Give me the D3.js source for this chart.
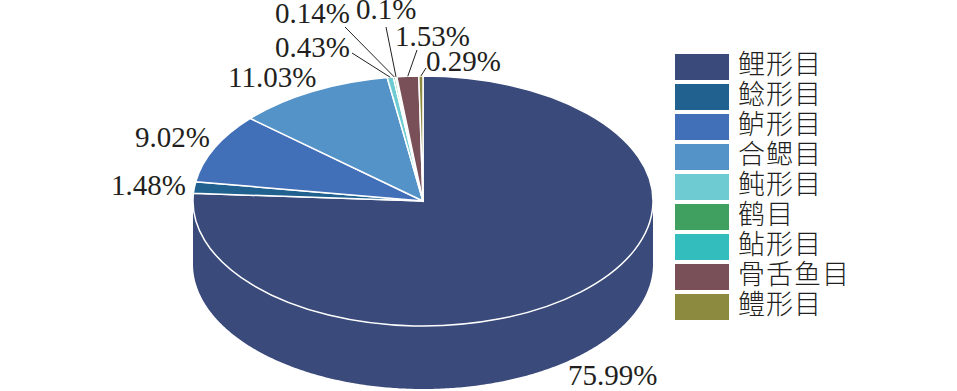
<!DOCTYPE html>
<html>
<head>
<meta charset="utf-8">
<script src="https://cdn.jsdelivr.net/npm/d3@7"></script>
<style>
  html, body { margin: 0; padding: 0; background: #fff; }
  svg { display: block; }
  .pct { font-family: "Liberation Serif", serif; font-size: 29px; fill: #231f20; }
  .leg { font-family: "Noto Sans CJK SC", sans-serif; font-size: 27px; font-weight: 300; letter-spacing: 1px; fill: #231f20; }
</style>
</head>
<body>
<svg id="chart" width="957" height="391"></svg>
<script>
const orders = ["鲤形目", "鲶形目", "鲈形目", "合鳃目", "鲀形目", "鹤目", "鲇形目", "骨舌鱼目", "鳢形目"]
const shares = [75.99, 1.48, 9.02, 11.03, 0.43, 0.14, 0.1, 1.53, 0.29]
const shareLabels = ["75.99%", "1.48%", "9.02%", "11.03%", "0.43%", "0.14%", "0.1%", "1.53%", "0.29%"]
const colors = ["#3a4b7b", "#21618f", "#4270b8", "#5393c8", "#6fcbd2", "#3fa05f", "#33bdbd", "#7a5058", "#8b8a3e"]

// label placement, by hand like the original: [x, baseline]
const labelPos = [[568, 385], [111, 195], [135, 147], [228, 87], [275, 57], [275, 23], [356, 19], [395, 46], [426, 71]]
// outer end of the leader lines, only the small slices have one
const leaderEnd = [null, null, null, null, [352, 53], [345, 27], [386, 27], [417, 50], [426, 68]]

const cx = 423, cy = 201, rx = 230, ry = 125, depth = 63

const svg = d3.select("#chart")
const pie = d3.pie().sort(null).value(d => d)
const slices = pie(shares)

const rimX = a => cx + rx * Math.sin(a)
const rimY = a => cy - ry * Math.cos(a)

// side wall, only the front half of the ellipse shows
const wall = d3.area()
  .x(a => rimX(a))
  .y0(a => rimY(a))
  .y1(a => rimY(a) + depth)

slices.forEach((s, i) => {
  const from = Math.max(s.startAngle, Math.PI / 2)
  const to = Math.min(s.endAngle, Math.PI * 1.5)
  if (to <= from) return
  const angles = d3.range(from, to, 0.01).concat([to])
  svg.append("path")
    .attr("d", wall(angles))
    .attr("fill", colors[i])
})

// top face: circular arcs squashed into the ellipse
const arc = d3.arc().innerRadius(0).outerRadius(rx)
const topFace = svg.append("g")
  .attr("transform", `translate(${cx},${cy}) scale(1,${ry / rx})`)

topFace.selectAll("path")
  .data(slices)
  .enter()
  .append("path")
  .attr("d", arc)
  .attr("fill", (d, i) => colors[i])
  .attr("stroke", "#fff")
  .attr("stroke-width", 1.5)
  .attr("vector-effect", "non-scaling-stroke")

// leaders
slices.forEach((s, i) => {
  if (!leaderEnd[i]) return
  const mid = (s.startAngle + s.endAngle) / 2
  svg.append("line")
    .attr("x1", rimX(mid))
    .attr("y1", rimY(mid))
    .attr("x2", leaderEnd[i][0])
    .attr("y2", leaderEnd[i][1])
    .attr("stroke", "#231f20")
    .attr("stroke-width", 1)
})

svg.selectAll("text.pct")
  .data(shareLabels)
  .enter()
  .append("text")
  .attr("class", "pct")
  .attr("x", (d, i) => labelPos[i][0])
  .attr("y", (d, i) => labelPos[i][1])
  .text(d => d)

// legend
const legendY = d3.scaleBand().domain(orders).range([51, 321])
const legendG = svg.selectAll("g.legend")
  .data(orders)
  .enter()
  .append("g")
  .attr("class", "legend")
  .attr("transform", d => "translate(675," + legendY(d) + ")")

legendG.append("rect")
  .attr("y", 3)
  .attr("width", 54)
  .attr("height", 26)
  .attr("fill", (d, i) => colors[i])

legendG.append("text")
  .attr("class", "leg")
  .attr("x", 63)
  .attr("y", 23)
  .text(d => d)
</script>
</body>
</html>
